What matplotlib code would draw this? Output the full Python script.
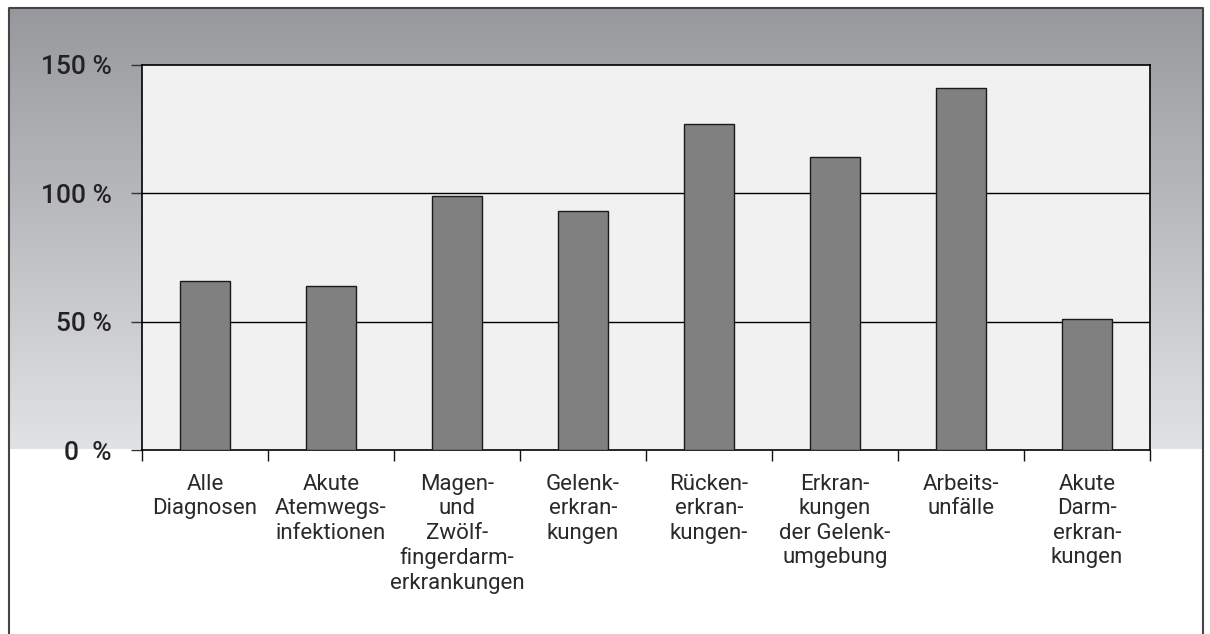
import numpy as np
import matplotlib
matplotlib.use("Agg")
import matplotlib.pyplot as plt
from matplotlib.colors import LinearSegmentedColormap

categories = [
    "Alle\nDiagnosen",
    "Akute\nAtemwegs-\ninfektionen",
    "Magen-\nund\nZwölf-\nfingerdarm-\nerkrankungen",
    "Gelenk-\nerkran-\nkungen",
    "Rücken-\nerkran-\nkungen-",
    "Erkran-\nkungen\nder Gelenk-\numgebung",
    "Arbeits-\nunfälle",
    "Akute\nDarm-\nerkran-\nkungen",
]
values = [66, 64, 99, 93, 127, 114, 141, 51]
yticks = [0, 50, 100, 150]
ytick_labels = ["0  %", "50 %", "100 %", "150 %"]

W, H = 1210, 634
fig = plt.figure(figsize=(W / 100, H / 100), dpi=100)
fig.patch.set_facecolor("white")

# background decoration axes in pixel coordinates
bg = fig.add_axes([0, 0, 1, 1], zorder=-5)
bg.set_xlim(0, W)
bg.set_ylim(H, 0)
bg.axis("off")
cmap = LinearSegmentedColormap.from_list("g", ["#98999d", "#e1e2e4"])
grad = np.linspace(0, 1, 256).reshape(-1, 1)
bg.imshow(grad, cmap=cmap, aspect="auto", extent=[9, 1203, 449, 9], interpolation="bilinear")
bg.plot([9, 9, 1203, 1203], [H + 5, 8, 8, H + 5], color="#444444", lw=1.5)

ax = fig.add_axes([142 / W, 1 - 450 / H, (1150 - 142) / W, (450 - 65) / H])
ax.set_facecolor("#f1f1f1")
x = np.arange(len(categories))
ax.bar(x, values, width=0.4, color="#808080", edgecolor="#1a1a1a", linewidth=1.0, zorder=3)
ax.set_xlim(-0.5, len(categories) - 0.5)
ax.set_ylim(0, 150)
for v in [50, 100]:
    ax.axhline(v, color="black", lw=1.0, zorder=2)

for s in ax.spines.values():
    s.set_color("black")
    s.set_linewidth(1.2)

ax.set_yticks(yticks)
ax.set_yticklabels(ytick_labels, fontfamily="Roboto", fontweight="medium", fontsize=19, color="#222222")
ax.tick_params(axis="y", length=8, width=1, pad=14, color="#333333")

ax.set_xticks(x)
ax.set_xticklabels(categories, fontfamily="Roboto", fontweight="normal", fontsize=16,
                   color="#2a2a2a", linespacing=1.22, va="top")
ax.tick_params(axis="x", which="major", length=0, pad=17)
ax.set_xticks(np.arange(-0.5, len(categories), 1.0), minor=True)
ax.tick_params(axis="x", which="minor", length=8, width=1, color="#111111")

fig.savefig("out.png", dpi=100, facecolor="white")
